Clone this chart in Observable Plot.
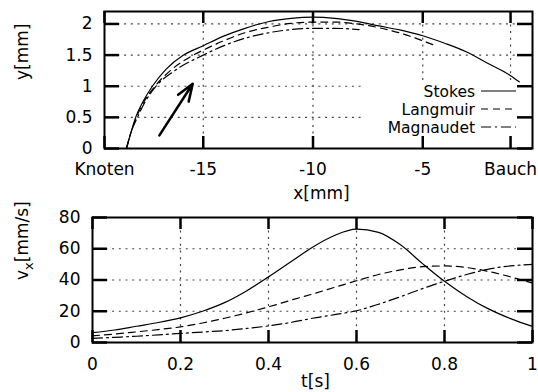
<!DOCTYPE html>
<html><head><meta charset="utf-8">
<script src="https://cdn.jsdelivr.net/npm/d3@7"></script>
<script src="https://cdn.jsdelivr.net/npm/@observablehq/plot@0.6"></script>
<style>body{margin:0;background:#fff}#chart svg{display:block}</style>
</head><body><div id="chart"></div>
<script>
// ---- data ----
const seriesNames = ["Stokes", "Langmuir", "Magnaudet"];

// top panel: trajectories y(x) [mm]
const stokesX = [-18.5,-18.3,-18.08,-17.75,-17.32,-16.7,-15.9,-15.0,-14.1,-13.1,-12.0,-11.0,-10.0,-9.0,-8.0,-7.0,-6.0,-5.0,-4.0,-3.0,-2.0,-1.0,-0.6];
const stokesY = [0,0.25,0.5,0.75,1.0,1.27,1.5,1.65,1.80,1.93,2.04,2.09,2.11,2.09,2.04,1.97,1.90,1.81,1.69,1.55,1.36,1.17,1.07];
const langmuirX = [-18.5,-18.3,-18.05,-17.7,-17.2,-16.5,-15.6,-15.0,-14.0,-13.1,-12.0,-11.0,-10.0,-9.0,-8.0,-7.0,-6.0,-5.0,-4.35];
const langmuirY = [0,0.25,0.5,0.75,1.0,1.25,1.47,1.58,1.74,1.86,1.95,2.01,2.03,2.03,2.0,1.94,1.85,1.73,1.64];
const magnaudetX = [-18.5,-18.3,-18.0,-17.65,-17.15,-16.3,-15.0,-14.0,-13.1,-12.0,-11.0,-10.0,-9.0,-7.9];
const magnaudetY = [0,0.25,0.5,0.75,1.0,1.25,1.5,1.66,1.77,1.86,1.91,1.93,1.93,1.91];

// arrow (direction of motion)
const arrowFrom = [-17.0, 0.21];
const arrowTo = [-15.48, 1.04];

// top axis ticks
const xTicksTop = [-19.5, -15, -10, -5, -1];
const xTickLabelsTop = ["Knoten", "-15", "-10", "-5", "Bauch"];
const xGridTop = [-15, -10, -5, -1];
const yTicksTop = [0, 0.5, 1, 1.5, 2];
const yGridTop = [0.5, 1, 1.5, 2];

// bottom panel: v_x(t)
const time = [0,0.05,0.1,0.15,0.2,0.25,0.3,0.35,0.4,0.45,0.5,0.55,0.6,0.65,0.7,0.75,0.8,0.85,0.9,0.95,1.0];
const stokesVx = [6.3,8.0,10.4,12.8,15.8,20.0,25.5,33,42,51.5,61,68.5,72.5,70.5,62.5,50.5,39.2,29.5,21.5,15.3,10.3];
const langmuirVx = [4.3,5.4,6.8,8.3,10,12.5,15.5,19,22.8,27,31,35.3,39.5,43.5,46.5,48.5,49,48,45.5,42,38];
const magnaudetVx = [2.6,3.3,4,4.9,5.8,6.7,7.6,9,10.6,12.8,15.5,17.8,20.3,24.5,29.3,34.5,39.2,43.5,47,49,50];

const xTicksBot = [0, 0.2, 0.4, 0.6, 0.8, 1];
const xGridBot = [0.2, 0.4, 0.6, 0.8];
const yTicksBot = [0, 20, 40, 60, 80];
const yGridBot = [20, 40, 60];

// ---- tables ----
const traj = [
  ...stokesX.map((x, i) => ({series: "Stokes", x, y: stokesY[i]})),
  ...langmuirX.map((x, i) => ({series: "Langmuir", x, y: langmuirY[i]})),
  ...magnaudetX.map((x, i) => ({series: "Magnaudet", x, y: magnaudetY[i]}))
];
const vel = [
  ...time.map((t, i) => ({series: "Stokes", t, v: stokesVx[i]})),
  ...time.map((t, i) => ({series: "Langmuir", t, v: langmuirVx[i]})),
  ...time.map((t, i) => ({series: "Magnaudet", t, v: magnaudetVx[i]}))
];

const dashes = {Stokes: null, Langmuir: "7,5", Magnaudet: "10,4,2,4"};
const font = {fontFamily: "DejaVu Sans", fontSize: "17px", background: "white", overflow: "visible"};
const gridOpts = {stroke: "#444", strokeOpacity: 1, strokeWidth: 1.2, strokeDasharray: "2,4.7"};
const W = 538;

function lines(data, xk, yk) {
  return seriesNames.map(s => Plot.line(data.filter(d => d.series === s), {
    x: xk, y: yk, stroke: "black", strokeWidth: 1.2, curve: "monotone-x",
    strokeDasharray: dashes[s]
  }));
}
// inward gnuplot-style ticks on all four sides (tick marks shortened by insets)
function frameTicks(xt, yt, innerW, innerH) {
  const o = {stroke: "black", strokeWidth: 2.5, strokeOpacity: 1};
  return [
    Plot.tickX(xt, {...o, x: d => d, insetTop: innerH - 12}),
    Plot.tickX(xt, {...o, x: d => d, insetBottom: innerH - 12}),
    Plot.tickY(yt, {...o, y: d => d, insetRight: innerW - 15}),
    Plot.tickY(yt, {...o, y: d => d, insetLeft: innerW - 15})
  ];
}

// ---- top plot ----
const topM = {left: 104, right: 6, top: 11, bottom: 57, h: 205};
const topPlot = Plot.plot({
  width: W, height: topM.h,
  marginLeft: topM.left, marginRight: topM.right, marginTop: topM.top, marginBottom: topM.bottom,
  style: font,
  x: {domain: [-19.5, 0]},
  y: {domain: [0, 2.2]},
  marks: [
    Plot.gridX(xGridTop, gridOpts),
    Plot.gridY(yGridTop, gridOpts),
    Plot.frame({stroke: "black", strokeWidth: 2}),
    ...frameTicks(xTicksTop, yTicksTop, W - topM.left - topM.right, topM.h - topM.top - topM.bottom),
    Plot.axisX(xTicksTop, {anchor: "bottom", tickSize: 0, tickPadding: 14, label: null,
      tickFormat: d => xTickLabelsTop[xTicksTop.indexOf(d)]}),
    Plot.axisY(yTicksTop, {anchor: "left", tickSize: 0, tickPadding: 12, label: null, tickFormat: d => String(d)}),
    ...lines(traj, "x", "y"),
    Plot.arrow([{x1: arrowFrom[0], y1: arrowFrom[1], x2: arrowTo[0], y2: arrowTo[1]}],
      {x1: "x1", y1: "y1", x2: "x2", y2: "y2", stroke: "black", strokeWidth: 2.5, headLength: 11, headAngle: 40}),
    Plot.text(["x[mm]"], {frameAnchor: "bottom", dy: 50, dx: 3, text: d => d}),
    Plot.text(["y[mm]"], {frameAnchor: "left", dx: -82, rotate: -90, text: d => d})
  ]
});

// legend box (masks grid) + legend entries
(function () {
  const ns = "http://www.w3.org/2000/svg";
  const r = W - topM.right, b = topM.h - topM.bottom;
  const frameEl = topPlot.querySelector('[aria-label="frame"]');
  const mask = document.createElementNS(ns, "rect");
  mask.setAttribute("x", r - 167); mask.setAttribute("y", b - 66);
  mask.setAttribute("width", 167); mask.setAttribute("height", 66);
  mask.setAttribute("fill", "white");
  frameEl.parentNode.insertBefore(mask, frameEl);
  const g = d3.select(topPlot).append("g").attr("font-family", "DejaVu Sans").attr("font-size", 15.5);
  seriesNames.forEach((s, i) => {
    const yy = b - 57 + 18 * i;
    g.append("text").attr("x", r - 57).attr("y", yy).attr("dy", "0.36em")
      .attr("text-anchor", "end").attr("fill", "black").text(s);
    g.append("line").attr("x1", r - 51).attr("x2", r - 16).attr("y1", yy).attr("y2", yy)
      .attr("stroke", "black").attr("stroke-width", 1.2)
      .attr("stroke-dasharray", dashes[s]);
  });
})();

// ---- bottom plot ----
const botM = {left: 92, right: 6, top: 12, bottom: 50, h: 187};
const botPlot = Plot.plot({
  width: W, height: botM.h,
  marginLeft: botM.left, marginRight: botM.right, marginTop: botM.top, marginBottom: botM.bottom,
  style: font,
  x: {domain: [0, 1]},
  y: {domain: [0, 80]},
  marks: [
    Plot.gridX(xGridBot, gridOpts),
    Plot.gridY(yGridBot, gridOpts),
    Plot.frame({stroke: "black", strokeWidth: 2}),
    ...frameTicks(xTicksBot, yTicksBot, W - botM.left - botM.right, botM.h - botM.top - botM.bottom),
    Plot.axisX(xTicksBot, {anchor: "bottom", tickSize: 0, tickPadding: 15, label: null, tickFormat: d => String(d)}),
    Plot.axisY(yTicksBot, {anchor: "left", tickSize: 0, tickPadding: 12, label: null, tickFormat: d => String(d)}),
    ...lines(vel, "t", "v"),
    Plot.text(["t[s]"], {frameAnchor: "bottom", dy: 44, dx: 3, text: d => d}),
    Plot.text(["vx[mm/s]"], {frameAnchor: "left", dx: -70, rotate: -90, text: d => d})
  ]
});
// subscript x in v_x
d3.select(botPlot).selectAll("text").each(function () {
  if (this.textContent === "vx[mm/s]") {
    const t = d3.select(this);
    t.text(null);
    t.append("tspan").text("v");
    t.append("tspan").attr("font-size", 13).attr("dy", 5).text("x");
    t.append("tspan").attr("dy", -5).text("[mm/s]");
  }
});

document.getElementById("chart").append(topPlot, botPlot);
</script>
</body></html>
